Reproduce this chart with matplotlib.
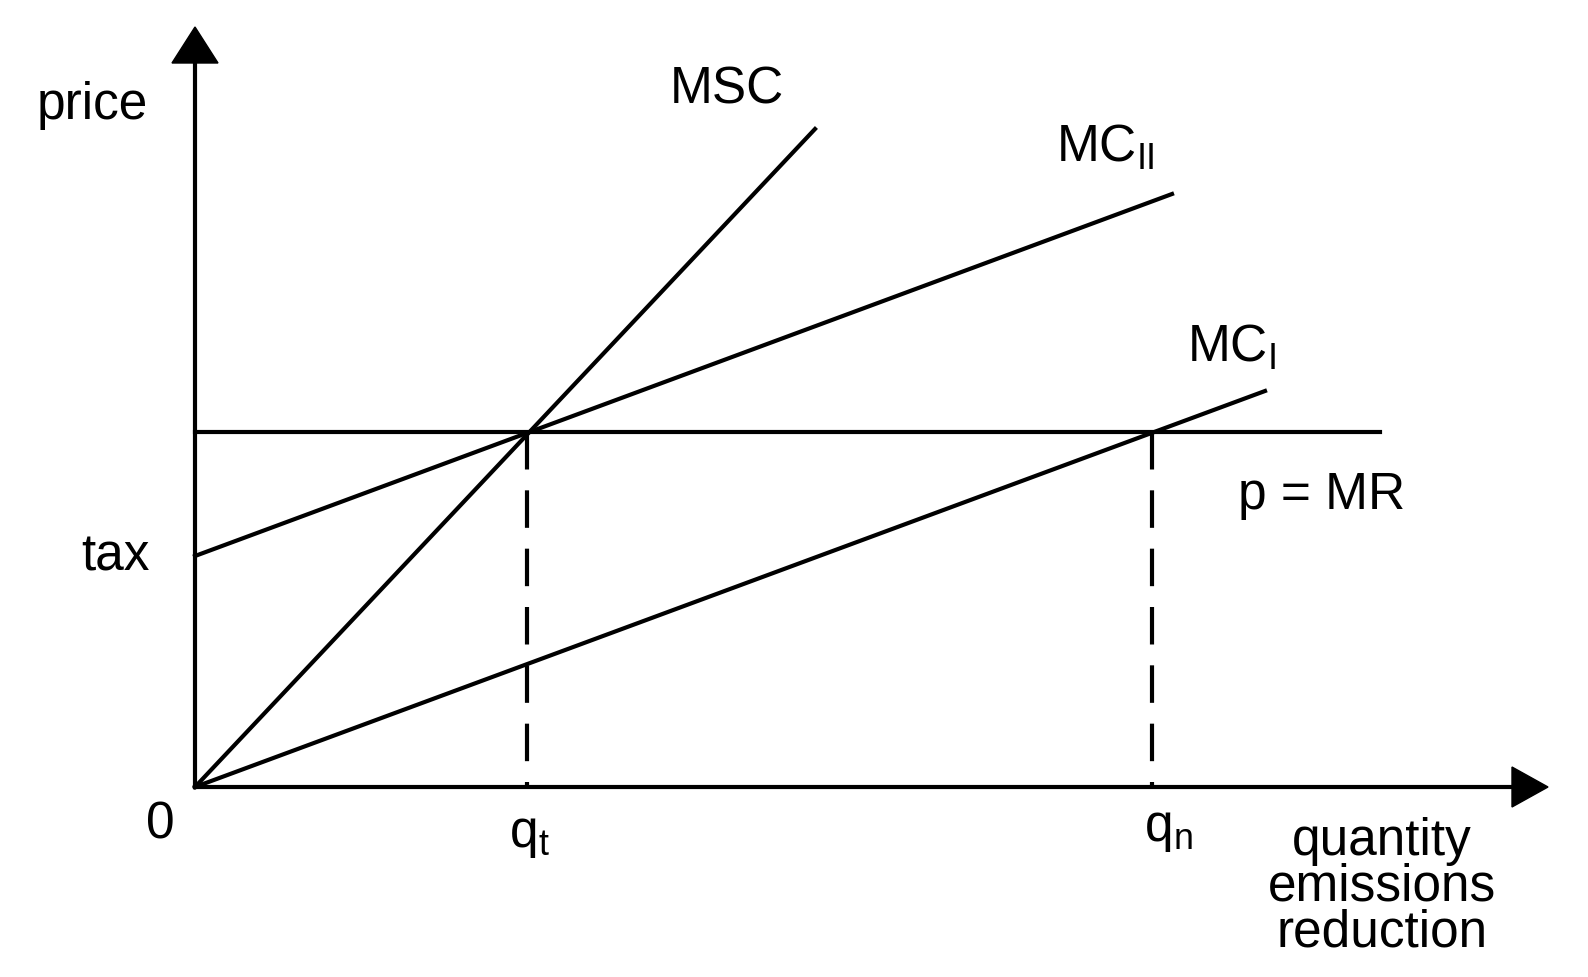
import matplotlib
matplotlib.use("Agg")
import matplotlib.pyplot as plt
from matplotlib.patches import Polygon

plt.rcParams['font.family'] = ['Liberation Sans', 'DejaVu Sans']

# geometry in image-pixel units (x right, y down)
origin = (195, 788)
msc = [(195, 788), (815, 130)]
mc2 = [(195, 557), (1172, 195)]
mc1 = [(195, 788), (1265, 392)]
p_mr = [(195, 433), (1380, 433)]
q_t, q_n = 527, 1152

fig = plt.figure(figsize=(15.88, 9.78), dpi=100)
ax = fig.add_axes([0, 0, 1, 1])
ax.set_xlim(0, 1588); ax.set_ylim(978, 0); ax.axis('off')

lw = 3
ax.plot([195, 195], [788, 60], color='black', lw=lw)
ax.plot([195, 1515], [788, 788], color='black', lw=lw)
ax.add_patch(Polygon([(172, 64), (218, 64), (195, 28)], color='black'))
ax.add_patch(Polygon([(1512, 768), (1512, 808), (1548, 788)], color='black'))

for seg in (msc, mc2, mc1, p_mr):
    ax.plot([seg[0][0], seg[1][0]], [seg[0][1], seg[1][1]], color='black', lw=lw)

for q in (q_t, q_n):
    ax.plot([q, q], [433, 788], color='black', lw=lw, dashes=(9, 5))

fs = 37
ax.text(92, 105, 'price', fontsize=fs, ha='center', va='center')
ax.text(115, 557, 'tax', fontsize=fs, ha='center', va='center')
ax.text(160, 825, '0', fontsize=fs, ha='center', va='center')
ax.text(529, 835, r'q$_\mathregular{t}$', fontsize=fs, ha='center', va='center')
ax.text(1168, 830, r'q$_\mathregular{n}$', fontsize=fs, ha='center', va='center')
ax.text(1382, 887, 'quantity\nemissions\nreduction', fontsize=fs, ha='center', va='center', linespacing=0.92)
ax.text(727, 90, 'MSC', fontsize=fs, ha='center', va='center')
ax.text(1105, 148, r'MC$_\mathregular{II}$', fontsize=fs, ha='center', va='center')
ax.text(1232, 348, r'MC$_\mathregular{I}$', fontsize=fs, ha='center', va='center')
ax.text(1322, 495, 'p = MR', fontsize=fs, ha='center', va='center')

fig.savefig('out.png', dpi=100, facecolor='white')
